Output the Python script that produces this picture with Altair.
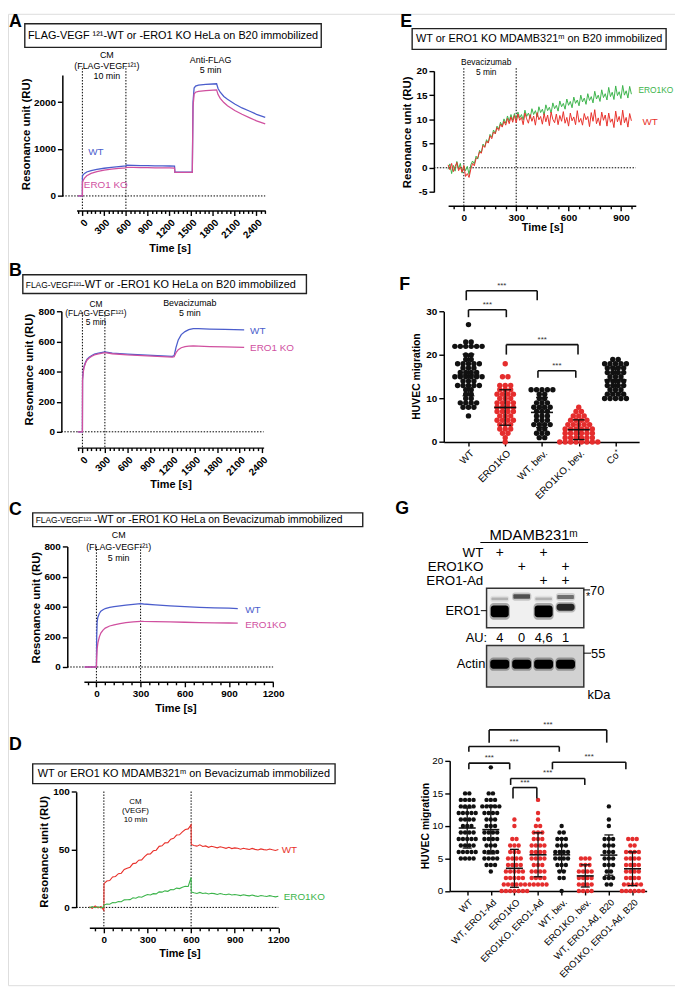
import altair as alt
import pandas as pd

# ---------------- data ----------------
A_T = [-60, 0, 1, 10, 30, 60, 120, 200, 300, 400, 500, 600, 605, 700, 800, 900, 1000, 1100, 1200, 1270,
       1275, 1400, 1515, 1525, 1540, 1560, 1600, 1700, 1800, 1850, 1870, 1900, 1950, 2000, 2100, 2200, 2300, 2400, 2520]
A_WT = [0, 0, 420, 450, 480, 510, 540, 565, 590, 610, 625, 640, 655, 650, 648, 645, 642, 640, 638, 636,
        505, 505, 505, 2000, 2300, 2340, 2360, 2375, 2385, 2390, 2290, 2210, 2120, 2060, 1960, 1875, 1810, 1740, 1676]
A_KO = [0, 0, 290, 330, 380, 430, 480, 520, 550, 570, 585, 600, 610, 608, 605, 603, 600, 598, 596, 595,
        500, 500, 500, 1900, 2170, 2210, 2230, 2245, 2255, 2260, 2160, 2080, 1990, 1920, 1820, 1740, 1670, 1600, 1537]
A_EV = [0, 600]

B_T = [-60, 0, 2, 10, 20, 40, 60, 90, 120, 160, 200, 250, 300, 400, 600, 800, 1000, 1200, 1225, 1250,
       1280, 1320, 1370, 1420, 1480, 1550, 1700, 1900, 2160]
B_WT = [0, 0, 350, 400, 430, 460, 480, 495, 505, 515, 520, 525, 530, 522, 515, 510, 505, 500, 505, 560,
        610, 645, 665, 678, 685, 685, 682, 680, 677]
B_KO = [0, 0, 340, 390, 425, 455, 475, 490, 500, 510, 515, 520, 525, 518, 510, 505, 500, 495, 498, 525,
        545, 558, 565, 569, 570, 569, 566, 563, 560]
B_EV = [0, 300]

C_T = [-80, 0, 2, 5, 10, 20, 30, 45, 60, 90, 120, 160, 200, 250, 300, 320, 400, 500, 600, 700, 800, 900, 960]
C_WT = [0, 0, 200, 300, 330, 355, 370, 380, 388, 395, 400, 405, 410, 415, 420, 418, 412, 405, 400, 396, 393, 390, 388]
C_KO = [0, 0, 60, 120, 160, 200, 225, 245, 258, 272, 280, 288, 294, 299, 303, 302, 301, 299, 297, 295, 293, 292, 291]
C_EV = [0, 300]

D_T = [-100, -80, -60, -40, -20, 0, 1, 20, 40, 60, 80, 100, 120, 140, 160, 180, 200, 220, 240, 260, 280, 300,
       320, 340, 360, 380, 400, 420, 440, 460, 480, 500, 520, 540, 560, 580, 600, 601, 620, 640, 660, 680, 700,
       720, 740, 760, 780, 800, 820, 840, 860, 880, 900, 920, 940, 960, 980, 1000, 1020, 1040, 1060, 1080, 1100,
       1120, 1140, 1160, 1180, 1200]
D_WT = [0.5, -0.8, 1.2, -0.5, 0.8, -2.5, 20.5,
        22.8, 23.3, 26.4, 26.8, 29.2, 29.6, 32.8, 33.9, 34.8, 37.9, 38.3, 40.8, 41.1, 43.9, 46.1, 46.3, 49.0, 49.5,
        52.8, 53.3, 55.8, 56.0, 59.0, 59.7, 62.6, 62.8, 65.4, 67.4, 67.9, 71.5, 54.5,
        53.6, 53.0, 54.1, 52.7, 53.2, 52.0, 52.9, 52.3, 51.5, 52.4, 51.8, 51.1, 52.0, 50.9, 51.5, 51.1, 50.3, 51.2,
        50.6, 50.1, 51.0, 50.2, 49.7, 50.6, 50.0, 49.6, 50.5, 49.8, 49.3, 50.1]
D_KO = [-0.5, 0.8, -0.3, 0.6, -0.5, 0.5, 2.0,
        3.0, 2.7, 4.3, 4.1, 5.1, 4.9, 6.5, 6.6, 6.7, 8.3, 7.9, 9.2, 8.8, 10.1, 11.1, 10.7, 11.9, 11.7, 13.4, 13.2,
        14.3, 13.9, 15.4, 15.3, 16.7, 16.3, 17.5, 18.3, 18.1, 26.0, 13.2,
        12.6, 12.1, 13.0, 12.0, 12.5, 11.6, 12.3, 11.9, 11.2, 12.0, 11.4, 10.9, 11.6, 10.7, 11.2, 10.8, 10.2, 11.0,
        10.4, 10.0, 10.7, 10.0, 9.5, 10.3, 9.8, 9.4, 10.2, 9.6, 9.1, 9.7]
D_EV = [0, 600]

E_T = [-90, -80, -70, -60, -50, -40, -30, -20, -10, 0, 10, 20, 30, 40, 50, 60, 70, 80, 90, 100,
       110, 120, 130, 140, 150, 160, 170, 180, 190, 200, 210, 220, 230, 240, 250, 260, 270, 280, 290, 300,
       310, 320, 330, 340, 350, 360, 370, 380, 390, 400, 410, 420, 430, 440, 450, 460, 470, 480, 490, 500,
       510, 520, 530, 540, 550, 560, 570, 580, 590, 600, 610, 620, 630, 640, 650, 660, 670, 680, 690, 700,
       710, 720, 730, 740, 750, 760, 770, 780, 790, 800, 810, 820, 830, 840, 850, 860, 870, 880, 890, 900,
       910, 920, 930, 940, 950, 960]
E_WT = [0.6, -0.4, 0.9, -0.8, 0.3, 1.1, -0.6, 0.2, -0.9, 0.5,
        -1.8, -1.2, -2.0, -0.3, 0.9, 0.4, 1.9, 2.1, 3.3, 3.0,
        4.6, 4.2, 5.5, 5.1, 6.6, 6.0, 7.4, 7.0, 8.3, 7.7,
        9.0, 8.4, 9.6, 8.8, 10.2, 9.1, 10.5, 9.4, 10.8, 9.3,
        11.1, 9.8, 10.4, 8.9, 11.3, 10.1, 9.2, 11.0, 9.6, 10.7,
        8.8, 11.4, 9.9, 10.6, 9.0, 11.2, 9.5, 10.9, 8.7, 11.5,
        10.0, 9.3, 11.1, 8.9, 10.8, 9.6, 11.6, 9.2, 10.4, 8.6,
        11.3, 9.7, 10.5, 8.9, 11.8, 9.4, 10.2, 8.8, 11.2, 9.9,
        10.6, 8.5, 11.4, 9.6, 12.0, 9.1, 10.3, 8.7, 11.5, 9.8,
        10.9, 8.6, 11.3, 9.4, 10.1, 8.3, 11.7, 9.5, 10.6, 8.8,
        11.9, 9.3, 10.4, 8.4, 11.2, 9.7]
E_KO = [-0.3, 0.8, -1.2, 0.5, -0.7, 1.3, -0.2, 0.9, -1.1, 0.4,
        -0.6, 0.3, -1.4, 0.6, 1.4, 0.8, 2.4, 1.8, 3.6, 3.1,
        4.9, 4.3, 5.8, 5.2, 6.9, 6.3, 7.8, 7.1, 8.6, 8.0,
        9.4, 8.6, 10.1, 9.2, 10.7, 9.6, 11.0, 9.8, 11.2, 10.0,
        11.5, 10.3, 11.0, 9.9, 11.9, 10.6, 11.3, 10.2, 12.2, 11.0,
        11.8, 10.5, 12.6, 11.4, 12.1, 10.9, 13.0, 11.8, 12.5, 11.3,
        13.4, 12.2, 12.9, 11.7, 13.8, 12.6, 13.3, 12.1, 14.2, 12.9,
        13.7, 12.4, 14.6, 13.3, 14.0, 12.8, 15.0, 13.6, 14.4, 13.1,
        15.3, 13.9, 14.7, 13.4, 15.8, 14.2, 15.0, 13.7, 16.1, 14.5,
        15.3, 14.0, 16.6, 14.7, 15.6, 14.1, 16.9, 14.9, 15.7, 14.3,
        17.0, 15.0, 15.9, 14.4, 16.8, 15.2]
E_EV = [0, 300]

F_GROUPS = ["WT", "ERO1KO", "WT, bev.", "ERO1KO, bev.", "Co⁺"]
F_WT = [27, 23, 23, 22, 22, 22, 22, 22, 22, 20, 20, 19, 19, 18, 18, 18, 18, 18, 17, 17, 17, 16, 16, 16, 16, 15, 15,
        15, 15, 15, 15, 14, 14, 14, 13, 13, 13, 13, 13, 12, 12, 11, 11, 10, 10, 9, 9, 9, 9, 8, 8, 8, 6]
F_KO = [18, 15, 15, 13, 13, 13, 12, 12, 12, 11, 11, 11, 11, 10, 10, 10, 9, 9, 9, 9, 8, 8, 8, 8, 7, 7, 7, 7, 6, 6, 6,
        5, 5, 5, 5, 4, 4, 4, 3, 3, 3, 2, 2, 1, 0]
F_WTB = [12, 12, 12, 12, 12, 11, 11, 10, 10, 9, 9, 9, 8, 8, 8, 8, 7, 7, 7, 6, 6, 6, 5, 5, 5, 4, 4, 4, 4, 3, 3, 2, 2,
         2, 1, 1]
F_KOB = [8, 7, 7, 6, 6, 6, 5, 5, 5, 5, 4, 4, 4, 4, 4, 3, 3, 3, 3, 3, 3, 2, 2, 2, 2, 2, 2, 1, 1, 1, 1, 1, 1, 0, 0, 0,
         0, 0, 0, 0, 0]
F_CO = [19, 19, 18, 18, 18, 18, 18, 17, 17, 17, 17, 16, 16, 16, 16, 15, 15, 15, 14, 14, 14, 14, 13, 13, 13, 13, 12,
        12, 12, 11, 11, 11, 11, 10, 10, 10, 10, 10]
F_BRACKETS = [(-0.06, 1.87, 34.8, 32.6), (0.0, 1.03, 30.4, 28.7), (1.03, 2.98, 22.4, 20.1), (1.89, 2.92, 16.4, 14.8)]

G_GROUPS = ["WT", "WT, ERO1-Ad", "ERO1KO", "ERO1KO, ERO1-Ad", "WT, bev.", "ERO1KO, bev.",
            "WT, ERO1-Ad, B20", "ERO1KO, ERO1-Ad, B20"]
G_WT = [15, 15, 14, 14, 14, 14, 13, 13, 13, 13, 12, 12, 12, 12, 12, 11, 11, 11, 11, 10, 10, 10, 9, 9, 9, 9, 8, 8, 8,
        8, 8, 7, 7, 7, 7, 6, 6, 6, 6, 6, 5, 5, 5, 5]
G_WTA = [19, 15, 15, 14, 14, 14, 13, 13, 13, 13, 13, 12, 12, 12, 12, 11, 11, 11, 10, 10, 10, 9, 9, 9, 9, 8, 8, 8, 8,
         7, 7, 7, 6, 6, 6, 6, 5, 5, 5, 5, 4, 4, 4, 3]
G_KO = [11, 10, 8, 8, 7, 7, 7, 6, 6, 6, 5, 5, 5, 5, 4, 4, 4, 4, 3, 3, 3, 3, 3, 2, 2, 2, 2, 2, 1, 1, 1, 1, 1, 1, 0, 0,
        0, 0, 0, 0, 0]
G_KOA = [14, 12, 11, 10, 10, 9, 9, 9, 8, 8, 8, 7, 7, 7, 7, 6, 6, 6, 6, 5, 5, 5, 5, 4, 4, 4, 3, 3, 3, 3, 2, 2, 2, 2,
         1, 1, 1, 1, 1]
G_WTB = [10, 9, 9, 8, 8, 8, 7, 7, 7, 6, 6, 6, 6, 5, 5, 5, 5, 4, 4, 4, 3, 3, 2, 2, 0]
G_KOB = [5, 5, 5, 4, 4, 4, 3, 3, 3, 3, 2, 2, 2, 2, 1, 1, 1, 1, 0, 0, 0, 0]
G_WTAB = [13, 11, 10, 8, 8, 8, 7, 7, 7, 6, 6, 6, 5, 5, 5, 4, 4, 4, 3, 3, 2, 2, 2, 1, 1]
G_KOAB = [8, 8, 8, 7, 7, 6, 6, 6, 6, 5, 5, 5, 5, 4, 4, 4, 4, 3, 3, 3, 3, 2, 2, 2, 2, 1, 1, 1, 1, 1, 0, 0, 0, 0, 0, 0]
G_BRACKETS = [(0.93, 5.91, 24.76, 22.8), (0.07, 3.9, 22.2, 21.4), (0.07, 1.8, 19.65, 18.7),
              (3.61, 6.72, 19.8, 18.7), (1.84, 4.98, 17.3, 16.3), (1.94, 2.95, 15.9, 14.2)]

LANES = [1, 2, 3, 4]
ROWS = ["WT", "ERO1KO", "ERO1-Ad"]
PRESENT = [[1, 0, 1, 0], [0, 1, 0, 1], [0, 0, 1, 1]]
ERO1_MAIN = [1.0, 0.0, 1.0, 0.8]
ERO1_MAIN_POS = [0.585, 0.585, 0.585, 0.48]
ERO1_UP = [0.25, 0.7, 0.25, 0.55]
ERO1_UP_POS = [0.27, 0.21, 0.27, 0.22]
ACTIN = [1.0, 1.0, 1.0, 1.0]
ACTIN_POS = [0.45, 0.45, 0.45, 0.45]
AU = ["4", "0", "4,6", "1"]

# ---------------- styling / layout ----------------
O = 8
W, H = 675, 983
FONT = "Liberation Sans"
BLUE, PINK, RED, GREEN, BLACK = "#4b5dcc", "#d0509f", "#e8312b", "#3cb44b", "#111111"
DRED = "#e52d2d"


def P(v):
    return v - O


EMPTY = alt.Data(values=[{"k": 0}])
layers = []


def add(ch):
    layers.append(ch)


def txt(s, x, y, size=10, weight="normal", color="black", align="center", baseline="middle", angle=0):
    add(alt.Chart(EMPTY).mark_text(text=s, font=FONT, fontSize=size, fontWeight=weight, color=color,
                                   align=align, baseline=baseline, angle=angle)
        .encode(x=alt.value(P(x)), y=alt.value(P(y))))


def seg(x1, y1, x2, y2, color="black", width=1.0):
    add(alt.Chart(EMPTY).mark_rule(color=color, strokeWidth=width)
        .encode(x=alt.value(P(x1)), x2=alt.value(P(x2)), y=alt.value(P(y1)), y2=alt.value(P(y2))))


def box(x1, y1, x2, y2, fill="white", stroke="#222222", width=1.4):
    add(alt.Chart(EMPTY).mark_rect(fill=fill, stroke=stroke, strokeWidth=width)
        .encode(x=alt.value(P(x1)), x2=alt.value(P(x2)), y=alt.value(P(y1)), y2=alt.value(P(y2))))


def lin(dom, r0, r1):
    return alt.Scale(domain=list(dom), range=[P(r0), P(r1)], zero=False, nice=False)


AXC = dict(title=None, grid=False, domainColor="black", domainWidth=1.5, tickColor="black", tickWidth=1.4,
           labelFont=FONT, labelColor="black", labelPadding=2, labelOverlap=False, labelFlush=False,
           labelBound=False)


def yax(xpix, vals, size=10, weight="bold"):
    return alt.Axis(orient="left", offset=-P(xpix), values=vals, tickSize=5, labelFontSize=size,
                    labelFontWeight=weight, labelExpr="'' + datum.value", **AXC)


def xax_time(ypix, vals, major, angle=None):
    cond = f"datum.value % {major} === 0"
    kw = dict(orient="bottom", offset=P(ypix) - H, values=vals,
              tickSize={"condition": {"test": cond, "value": 5}, "value": 3},
              labelFontSize=10, labelFontWeight="bold", labelExpr=f"{cond} ? '' + datum.value : ''")
    if angle is not None:
        kw.update(labelAngle=angle, labelAlign="right", labelBaseline="top")
    return alt.Axis(**kw, **AXC)


def sensorgram(t, series, xdom, xr, ydom, yr, yx, yvals, xy, tick0, step, major, angle, events, ev_top, zx2):
    xs = lin(xdom, *xr)
    ys = lin(ydom, *yr)
    ticks = list(range(tick0, int(xdom[1]) + 1, step))
    dot = dict(color="black", strokeWidth=1, strokeDash=[1.5, 1.5])
    add(alt.Chart(pd.DataFrame({"v": [0]})).mark_rule(**dot)
        .encode(y=alt.Y("v:Q", scale=ys, axis=None), x=alt.value(P(yx)), x2=alt.value(P(zx2))))
    add(alt.Chart(pd.DataFrame({"t": events})).mark_rule(**dot)
        .encode(x=alt.X("t:Q", scale=xs, axis=None), y=alt.value(P(ev_top)), y2=alt.value(P(xy))))
    for k, (vals, color, sw) in enumerate(series):
        df = pd.DataFrame({"t": t, "v": vals})
        add(alt.Chart(df).mark_line(color=color, strokeWidth=sw).encode(
            x=alt.X("t:Q", scale=xs, axis=xax_time(xy, ticks, major, angle) if k == 0 else None),
            y=alt.Y("v:Q", scale=ys, axis=yax(yx, yvals) if k == 0 else None)))


def dotplot(groups, vals, colors, xdom, xr, ydom, yr, yx, yvals, xy, spacing, dsize, mean_hw, cap_hw,
            brackets, lab_size, ywt):
    xs = lin(xdom, *xr)
    ys = lin(ydom, *yr)
    rows = [{"g": g, "i": i, "v": v} for i, (g, vs) in enumerate(zip(groups, vals)) for v in vs]
    df = pd.DataFrame(rows)
    names = "[" + ",".join("'" + g + "'" for g in groups) + "]"
    xaxis = alt.Axis(orient="bottom", offset=P(xy) - H, values=list(range(len(groups))),
                     labelExpr=f"{names}[datum.value]", labelAngle=-45, labelAlign="right",
                     labelBaseline="top", tickSize=4, labelFontSize=lab_size, **AXC)
    add(alt.Chart(df)
        .transform_window(k="row_number()", groupby=["i", "v"])
        .transform_joinaggregate(n="count()", groupby=["i", "v"])
        .transform_calculate(xp=f"datum.i + (datum.k - 1 - (datum.n - 1) / 2) * {spacing}")
        .mark_circle(size=dsize, opacity=1)
        .encode(x=alt.X("xp:Q", scale=xs, axis=xaxis),
                y=alt.Y("v:Q", scale=ys, axis=yax(yx, yvals, size=10, weight=ywt)),
                color=alt.Color("g:N", scale=alt.Scale(domain=groups, range=colors), legend=None)))
    agg = (alt.Chart(df).transform_aggregate(m="mean(v)", s="stdev(v)", groupby=["i"])
           .transform_calculate(lo="datum.m - datum.s", hi="datum.m + datum.s",
                                a=f"datum.i - {mean_hw}", b=f"datum.i + {mean_hw}",
                                ca=f"datum.i - {cap_hw}", cb=f"datum.i + {cap_hw}"))
    add(agg.mark_rule(color=BLACK, strokeWidth=1.3)
        .encode(x=alt.X("i:Q", scale=xs, axis=None), y=alt.Y("lo:Q", scale=ys, axis=None), y2="hi:Q"))
    add(agg.mark_rule(color=BLACK, strokeWidth=1.6)
        .encode(x=alt.X("a:Q", scale=xs, axis=None), x2="b:Q", y=alt.Y("m:Q", scale=ys, axis=None)))
    for f in ["lo", "hi"]:
        add(agg.mark_rule(color=BLACK, strokeWidth=1.3)
            .encode(x=alt.X("ca:Q", scale=xs, axis=None), x2="cb:Q", y=alt.Y(f + ":Q", scale=ys, axis=None)))
    segs = []
    for a, b, top, foot in brackets:
        segs += [dict(x=a, x2=b, y=top, y2=top), dict(x=a, x2=a, y=top, y2=foot), dict(x=b, x2=b, y=top, y2=foot)]
    add(alt.Chart(pd.DataFrame(segs)).mark_rule(color=BLACK, strokeWidth=1.6)
        .encode(x=alt.X("x:Q", scale=xs, axis=None), x2="x2:Q", y=alt.Y("y:Q", scale=ys, axis=None), y2="y2:Q"))
    labs = pd.DataFrame({"x": [(a + b) / 2 for a, b, _, _ in brackets], "y": [t for _, _, t, _ in brackets]})
    add(alt.Chart(labs).mark_text(text="***", font=FONT, fontSize=8, baseline="bottom", dy=-1, color="#333333")
        .encode(x=alt.X("x:Q", scale=xs, axis=None), y=alt.Y("y:Q", scale=ys, axis=None)))


# ---------------- panel A ----------------
txt("A", 9, 16, 18, "bold", align="left")
box(25, 18, 325, 42)
txt("FLAG-VEGF ¹²¹-WT or -ERO1 KO HeLa on B20 immobilized", 175, 30.5, 11)
sensorgram(A_T, [(A_WT, BLUE, 1.3), (A_KO, PINK, 1.3)], [-80, 2520], (77.4, 268.3), [0, 2575], (192.3, 70),
           63, [0, 1000, 2000], 207, -60, 60, 300, -45, A_EV, 63, 268.3)
txt("CM", 108, 50, 9)
txt("(FLAG-VEGF¹²¹)", 108, 61, 9)
txt("10 min", 108, 71, 9)
txt("Anti-FLAG", 213, 55, 9)
txt("5 min", 213, 65, 9)
txt("WT", 97, 148, 10, color=BLUE)
txt("ERO1 KO", 107, 181, 10, color=PINK)
txt("Resonance unit (RU)", 27, 130, 11.5, "bold", angle=270)
txt("Time [s]", 172, 246, 11, "bold")

# ---------------- panel B ----------------
txt("B", 9, 268, 18, "bold", align="left")
box(23, 272, 310, 291)
txt("FLAG-VEGF¹²¹", 26, 282, 8.5, align="left")
txt("-WT or -ERO1 KO HeLa on B20 immobilized", 82, 282, 11, align="left")
sensorgram(B_T, [(B_WT, BLUE, 1.3), (B_KO, PINK, 1.3)], [-70, 2420], (78.0, 266.7), [0, 800], (431, 309),
           62, [0, 200, 400, 600, 800], 447, -60, 60, 300, -45, B_EV, 310, 266.7)
txt("CM", 97, 302, 8.5)
txt("(FLAG-VEGF¹²¹)", 97, 311, 8.5)
txt("5 min", 97, 320, 8.5)
txt("Bevacizumab", 192, 301, 9)
txt("5 min", 192, 311, 9)
txt("WT", 253, 329, 10, color=BLUE, align="left")
txt("ERO1 KO", 253, 346, 10, color=PINK, align="left")
txt("Resonance unit (RU)", 30, 368, 11.5, "bold", angle=270)
txt("Time [s]", 173, 485, 11, "bold")

# ---------------- panel C ----------------
txt("C", 9, 510, 18, "bold", align="left")
box(33, 513, 367, 527)
txt("FLAG-VEGF¹²¹", 36, 520, 8.5, align="left")
txt("-WT or -ERO1 KO HeLa on Bevacizumab immobilized", 95, 520, 10.5, align="left")
sensorgram(C_T, [(C_WT, BLUE, 1.3), (C_KO, PINK, 1.3)], [-85, 1200], (84.8, 276.3), [0, 800], (669, 547),
           68, [0, 200, 400, 600, 800], 684, -60, 60, 300, None, C_EV, 547, 276.3)
txt("CM", 120, 535, 9)
txt("(FLAG-VEGF¹²¹)", 120, 548, 9)
txt("5 min", 120, 559, 9)
txt("WT", 248, 611, 10, color=BLUE, align="left")
txt("ERO1KO", 248, 627, 10, color=PINK, align="left")
txt("Resonance unit (RU)", 37, 609, 11.5, "bold", angle=270)
txt("Time [s]", 178, 712, 11, "bold")

# ---------------- panel D ----------------
txt("D", 9, 748, 18, "bold", align="left")
box(33, 767, 339, 787)
txt("WT or ERO1 KO MDAMB321ᵐ  on Bevacizumab immobilized", 186, 777, 11)
sensorgram(D_T, [(D_WT, RED, 1.1), (D_KO, GREEN, 1.1)], [-100, 1200], (90.3, 281.6), [0, 100], (912.3, 795.3),
           77, [0, 50, 100], 933, -60, 60, 300, None, D_EV, 795, 281.6)
txt("CM", 137, 806, 8)
txt("(VEGF)", 137, 815, 8)
txt("10 min", 137, 824, 8)
txt("WT", 285, 854, 10, color=RED, align="left")
txt("ERO1KO", 287, 902, 10, color=GREEN, align="left")
txt("Resonance unit (RU)", 45, 856, 11.5, "bold", angle=270)
txt("Time [s]", 182, 959, 11, "bold")

# ---------------- panel E ----------------
txt("E", 405, 16, 18, "bold", align="left")
box(417, 23, 674, 44)
txt("WT or ERO1 KO MDAMB321ᵐ  on B20 immobilized", 545.5, 33.5, 11)
sensorgram(E_T, [(E_KO, GREEN, 1.0), (E_WT, RED, 1.0)], [-90, 985], (453.4, 643.3), [-5, 20], (188.3, 65.8),
           439, [-5, 0, 5, 10, 15, 20], 202.3, -60, 60, 300, None, E_EV, 63, 643.3)
txt("Bevacizumab", 492, 57, 8.5)
txt("5 min", 492, 67, 8.5)
txt("ERO1KO", 646, 85, 8.5, color=GREEN, align="left")
txt("WT", 650, 118, 10, color=RED, align="left")
txt("Resonance unit (RU)", 413, 128, 11.5, "bold", angle=270)
txt("Time [s]", 549, 225, 11, "bold")

# ---------------- panel F ----------------
txt("F", 404, 282, 18, "bold", align="left")
dotplot(F_GROUPS, [F_WT, F_KO, F_WTB, F_KOB, F_CO], [BLACK, DRED, BLACK, DRED, BLACK],
        [-0.672, 4.643], (449, 646.7), [0, 30], (441.3, 309.3), 449, [0, 10, 20, 30], 441.3,
        0.148, 30, 0.3, 0.16, F_BRACKETS, 10, "bold")
txt("HUVEC migration", 422, 375, 10.5, "bold", angle=270)

# ---------------- panel G: blot ----------------
txt("G", 400, 509, 18, "bold", align="left")
txt("MDAMB231ᵐ", 540, 535, 15)
seg(486, 543, 595, 543, width=1.2)
rowscale = alt.Scale(type="point", domain=ROWS, range=[P(553.3), P(581.7)], padding=0)
xsb = lin([0.4, 4.83], 492.3, 590.7)
add(alt.Chart(pd.DataFrame({"row": ROWS})).mark_text(font=FONT, fontSize=13.5, align="right")
    .encode(x=alt.value(P(489)), y=alt.Y("row:N", scale=rowscale, axis=None), text="row:N"))
plus = pd.DataFrame([{"row": r, "lane": l} for r, fl in zip(ROWS, PRESENT) for l, f in zip(LANES, fl) if f])
add(alt.Chart(plus).mark_text(text="+", font=FONT, fontSize=14)
    .encode(x=alt.X("lane:Q", scale=xsb, axis=None), y=alt.Y("row:N", scale=rowscale, axis=None)))

box(492.3, 589.3, 590.7, 629.3, fill="#f0f0f0", stroke="#333333", width=1.5)
box(492.3, 647.3, 590.7, 689.3, fill="#d2d2d2", stroke="#333333", width=1.5)
ysb1 = lin([0, 1], 589.3, 629.3)
ysb2 = lin([0, 1], 647.3, 689.3)
blot1 = pd.DataFrame({"lane": LANES, "main": ERO1_MAIN, "mpos": ERO1_MAIN_POS, "up": ERO1_UP, "upos": ERO1_UP_POS})
blot2 = pd.DataFrame({"lane": LANES, "act": ACTIN, "apos": ACTIN_POS})


def band(df, pos, inten, hexpr, w, ys, op=1.0, r=3):
    add(alt.Chart(df).transform_filter(f"datum.{inten} > 0")
        .transform_calculate(h=hexpr, x1=f"datum.lane - {w}", x2=f"datum.lane + {w}",
                             y1=f"datum.{pos} - datum.h", y2=f"datum.{pos} + datum.h", op=f"datum.{inten} * {op}")
        .mark_rect(color="#000000", cornerRadius=r)
        .encode(x=alt.X("x1:Q", scale=xsb, axis=None), x2="x2:Q", y=alt.Y("y1:Q", scale=ys, axis=None),
                y2="y2:Q", opacity=alt.Opacity("op:Q", scale=None)))


band(blot1, "upos", "up", "0.07 + 0.05 * datum.up", 0.44, ysb1, 0.25)
band(blot1, "upos", "up", "0.025 + 0.045 * datum.up", 0.38, ysb1, 0.85, 1)
band(blot1, "mpos", "main", "0.05 + 0.16 * pow(datum.main, 3)", 0.46, ysb1, 0.3, 4)
band(blot1, "mpos", "main", "0.025 + 0.125 * pow(datum.main, 3)", 0.41, ysb1, 1.0, 3)
band(blot2, "apos", "act", "0.16", 0.47, ysb2, 0.3, 4)
band(blot2, "apos", "act", "0.11", 0.43, ysb2, 1.0, 3)

txt("ERO1", 486, 612, 13, align="right")
seg(486.5, 612, 492.3, 612, width=1)
seg(590.7, 591, 597, 591, width=1)
txt("70", 597, 592, 13, align="left")
txt("*", 595, 598, 11)
txt("AU:", 482, 639.3, 13)
add(alt.Chart(pd.DataFrame({"lane": LANES, "au": AU})).mark_text(font=FONT, fontSize=13)
    .encode(x=alt.X("lane:Q", scale=xsb, axis=None), y=alt.value(P(639.3)), text="au:N"))
txt("Actin", 491, 666, 13, align="right")
seg(590.7, 655, 598, 655, width=1)
txt("55", 598, 656, 13, align="left")
txt("kDa", 606, 697, 13)

# ---------------- panel G: migration ----------------
dotplot(G_GROUPS, [G_WT, G_WTA, G_KO, G_KOA, G_WTB, G_KOB, G_WTAB, G_KOAB],
        [BLACK, BLACK, DRED, DRED, BLACK, DRED, BLACK, DRED],
        [-0.741, 7.6], (455, 654.3), [0, 20], (895.7, 764), 455, [0, 5, 10, 15, 20], 895.7,
        0.18, 20, 0.36, 0.19, G_BRACKETS, 9.5, "normal")
txt("HUVEC migration", 431, 830, 10.5, "bold", angle=270)

chart = (alt.layer(*layers)
         .resolve_scale(x="independent", y="independent", color="independent", opacity="independent")
         .properties(width=W, height=H, autosize=alt.AutoSizeParams(type="none"), padding=0)
         .configure_view(stroke=None)
         .configure(font=FONT))

chart.save("out.html", embed_options={"renderer": "svg", "actions": False})
